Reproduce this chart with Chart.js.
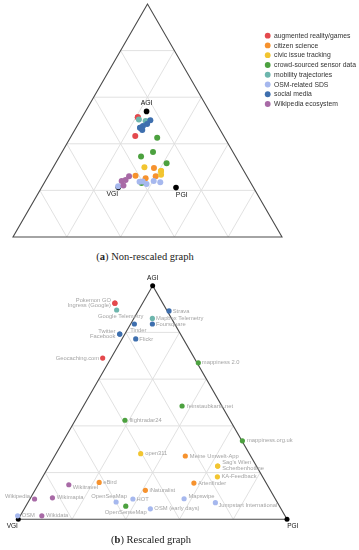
<!DOCTYPE html>
<html><head><meta charset="utf-8">
<script src="https://cdn.jsdelivr.net/npm/chart.js@4"></script>
<style>
html,body{margin:0;padding:0;background:#fff;}
#wrap{position:relative;width:359px;height:550px;overflow:hidden;background:#fff;}
canvas{position:absolute;left:0;}
.cap{position:absolute;width:200px;text-align:center;font-family:"Liberation Serif","DejaVu Serif",serif;font-size:10.5px;line-height:12px;color:#222;white-space:nowrap;}
</style></head>
<body><div id="wrap">
<canvas id="topChart" width="359" height="250" style="top:0px"></canvas>
<div class="cap" style="left:45px;top:251px;">(<b>a</b>) Non-rescaled graph</div>
<canvas id="botChart" width="359" height="288" style="top:262px"></canvas>
<div class="cap" style="left:51px;top:534px;">(<b>b</b>) Rescaled graph</div>
</div>
<script>
// ---------------- DATA ----------------
const categories = ['augmented reality/games','citizen science','civic issue tracking','crowd-sourced sensor data','mobility trajectories','OSM-related SDS','social media','Wikipedia ecosystem'];
const apps = ['Pokemon GO','Ingress (Google)','Geocaching.com',
  'eBird','iNaturalist','Meine Umwelt-App','Artenfinder',
  'open311',"Sag's Wien",'Scherbenhotline','KA-Feedback',
  'mappiness 2.0','feinstaubkarte.net','flightradar24','mappiness.org.uk','OpenSenseMap',
  'Google Telemetry','Mapbox Telemetry',
  'OSM','OpenSeaMap','HOT','OSM (early days)','Mapswipe','Jumpstart International',
  'Strava','Foursquare','Tinder','Twitter','Facebook','Flickr',
  'Wikipedia','Wikitravel','Wikimapia','Wikidata'];
const appCategory = [0,0,0, 1,1,1,1, 2,2,2,2, 3,3,3,3,3, 4,4, 5,5,5,5,5,5, 6,6,6,6,6,6, 7,7,7,7];
// non-rescaled shares (%) of AGI and PGI (VGI = 100 - AGI - PGI)
const rawAGI = [51.4,51.4,43.3, 26.3,25.2,29.6,26.1, 29.9,28.3,28.3,26.7, 42.6,36.5,34.6,31.6,23.2, 50.4,49.8, 21.8,23.7,23.8,22.7,24.0,23.5, 50.1,48.5,47.6,46.9,46.9,45.9, 24.0,26.1,24.5,22.1];
const rawPGI = [20.7,20.7,23.8, 32.4,36.7,37.6,40.0, 33.9,40.9,40.9,41.7, 32.3,33.8,30.3,41.3,36.2, 21.6,24.4, 28.2,35.2,36.3,38.3,40.3,43.0, 26.0,25.6,24.5,23.8,23.8,25.1, 28.4,30.1,29.6,30.0];
// rescaled shares (%) of AGI and PGI
const rescaledAGI = [92.5,92.5,69.0, 15.8,12.4,27.1,15.5, 28.1,22.8,22.8,18.2, 67.0,48.5,42.4,33.6,5.6, 89.6,86.0, 1.5,7.4,8.7,4.5,8.8,7.1, 89.2,83.6,83.6,79.3,79.3,77.2, 8.7,14.8,9.2,1.5];
const rescaledPGI = [-10.3,-10.3,-3.1, 22.2,41.1,48.6,57.6, 31.5,62.8,62.8,65.0, 33.5,36.7,18.5,66.6,37.2, -8.2,6.9, -1.0,32.7,38.3,46.9,57.3,69.8, 11.5,8.1,1.4,-1.9,-1.9,5.1, 1.7,11.4,8.1,8.0];
const vertexNames = ['AGI','VGI','PGI'];
const rawVertexAGI = [53.9,21.3,21.2];
const rawVertexPGI = [22.7,28.5,50.0];
const rescaledVertexAGI = [100,0,0];
const rescaledVertexPGI = [0,0,100];
const gridTicks = [20,40,60,80];

// ---------------- STYLE ----------------
const catColors = ['#e4494d','#f6922e','#f2c530','#4ca13f','#6db6ad','#a6b8ee','#3e6fae','#a86aa6'];
// label placement for rescaled graph: [align, dx, dy] (pixels relative to the point)
const labelPlace = [['right',-4,-2.6],['right',-4,2.4],['right',-3.5,0],
  ['left',4,0],['left',4,0],['left',4.5,0],['left',4,0],
  ['left',4.5,0],['left',4.5,-3.6],['left',4.5,2.6],['left',4,0],
  ['left',3.5,0],['left',5,0],['left',4.5,0],['left',4.5,0],['center',0,6.4],
  ['center',4,6],['left',3.7,0],
  ['left',4,0],['center',-7,-6],['left',3.7,0],['left',4,0],['left',4.3,-2],['left',3,3],
  ['left',3.7,0],['left',3.7,0],['center',4,6.7],['right',-4.3,-3],['right',-4.3,2],['left',3.6,0],
  ['right',-4.5,-3],['left',4,2.6],['left',4.4,0],['left',4.3,0]];
const vertexPlaceTop = [[0,-8],[-6,7],[5.7,7.3]];
const vertexPlaceBot = [[0,-7.4],[-6,7],[5.8,7.2]];

const S3 = Math.sqrt(3)/2;
function proj(a,p){ return {x: p + a/2, y: a*S3}; }

function buildDatasets(A, P, VA, VP, r, vr){
  const ds = categories.map((c,i)=>({
    label:c,
    data: apps.map((n,k)=>k).filter(k=>appCategory[k]===i).map(k=>Object.assign(proj(A[k],P[k]),{idx:k})),
    backgroundColor: catColors[i], borderWidth:0, pointRadius:r, pointHoverRadius:r, clip:false, order:-i
  }));
  ds.push({label:'vertices', data: vertexNames.map((n,k)=>Object.assign(proj(VA[k],VP[k]),{idx:k})),
    backgroundColor:'#000', borderWidth:0, pointRadius:vr, pointHoverRadius:vr, clip:false, order:5});
  return ds;
}

const ternaryGrid = {
  id:'ternaryGrid',
  beforeDatasetsDraw(chart){
    const {ctx, scales:{x,y}} = chart;
    const px = (a,p)=>{const q=proj(a,p); return [x.getPixelForValue(q.x), y.getPixelForValue(q.y)];};
    const line=(u,v)=>{ctx.beginPath();ctx.moveTo(u[0],u[1]);ctx.lineTo(v[0],v[1]);ctx.stroke();};
    ctx.save();
    ctx.strokeStyle='#dedede'; ctx.lineWidth=0.9;
    gridTicks.forEach(t=>{
      line(px(t,0),px(t,100-t));
      line(px(0,t),px(100-t,t));
      line(px(0,100-t),px(100-t,0));
    });
    ctx.strokeStyle='#4a4a4a'; ctx.lineWidth=1.1;
    const a=px(100,0), b=px(0,0), c=px(0,100);
    ctx.beginPath(); ctx.moveTo(a[0],a[1]); ctx.lineTo(b[0],b[1]); ctx.lineTo(c[0],c[1]); ctx.closePath(); ctx.stroke();
    ctx.restore();
  }
};

function vertexLabelPlugin(place, fontSize){
  return {
    id:'vertexLabels',
    afterDatasetsDraw(chart){
      const ctx=chart.ctx; const meta=chart.getDatasetMeta(categories.length);
      ctx.save(); ctx.fillStyle='#111'; ctx.font=fontSize+'px "Liberation Sans", Arial, sans-serif';
      ctx.textAlign='center'; ctx.textBaseline='middle';
      meta.data.forEach((el,k)=>{ ctx.fillText(vertexNames[k], el.x+place[k][0], el.y+place[k][1]); });
      ctx.restore();
    }
  };
}

const legendPlugin = {
  id:'customLegend',
  afterDraw(chart){
    const ctx=chart.ctx;
    ctx.save(); ctx.font='6.8px "Liberation Sans", Arial, sans-serif'; ctx.textBaseline='middle'; ctx.textAlign='left';
    categories.forEach((c,i)=>{
      const yy = 35.7 + i*9.76;
      ctx.fillStyle=catColors[i]; ctx.beginPath(); ctx.arc(267.7,yy,2.9,0,Math.PI*2); ctx.fill();
      ctx.fillStyle='#333'; ctx.fillText(c,274,yy+0.3);
    });
    ctx.restore();
  }
};

const appLabelPlugin = {
  id:'appLabels',
  afterDatasetsDraw(chart){
    const ctx=chart.ctx;
    ctx.save(); ctx.font='5.8px "Liberation Sans", Arial, sans-serif'; ctx.textBaseline='middle'; ctx.fillStyle='#a4a4a4';
    categories.forEach((c,i)=>{
      const meta=chart.getDatasetMeta(i);
      meta.data.forEach((el,j)=>{
        const k = chart.data.datasets[i].data[j].idx;
        const pl = labelPlace[k];
        ctx.textAlign = pl[0];
        ctx.fillText(apps[k], el.x+pl[1], el.y+pl[2]);
      });
    });
    ctx.restore();
  }
};

function makeChart(id, datasets, pad, plugins){
  return new Chart(document.getElementById(id), {
    type:'scatter',
    data:{datasets},
    options:{
      responsive:false, animation:false, devicePixelRatio:1, events:[],
      layout:{padding:pad},
      scales:{
        x:{type:'linear', min:0, max:100, display:false},
        y:{type:'linear', min:0, max:100*S3, display:false}
      },
      plugins:{legend:{display:false}, tooltip:{enabled:false}}
    },
    plugins: plugins
  });
}

makeChart('topChart', buildDatasets(rawAGI, rawPGI, rawVertexAGI, rawVertexPGI, 3.0, 2.8),
  {left:13, right:77, top:4, bottom:13},
  [ternaryGrid, vertexLabelPlugin(vertexPlaceTop, 6.8), legendPlugin]);

makeChart('botChart', buildDatasets(rescaledAGI, rescaledPGI, rescaledVertexAGI, rescaledVertexPGI, 2.6, 2.5),
  {left:18.3, right:72, top:23.7, bottom:30.7},
  [ternaryGrid, appLabelPlugin, vertexLabelPlugin(vertexPlaceBot, 6.5)]);
</script>
</body></html>
